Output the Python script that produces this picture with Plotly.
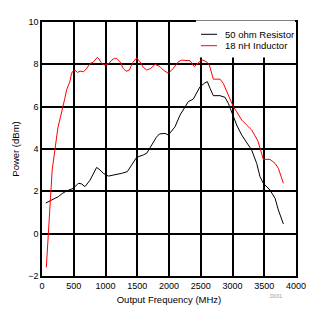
import plotly.graph_objects as go

# Data
red_x = [68, 85, 100, 118, 140, 160, 190, 220, 250, 290, 326, 360, 389, 420, 441, 460, 477, 520, 560,
         600, 650, 693, 730, 756, 808, 840, 871, 900, 924, 960, 992, 1055, 1098, 1140, 1176, 1228, 1280,
         1323, 1375, 1428, 1491, 1543, 1595, 1649, 1712, 1780, 1858, 1910, 1990, 2067, 2146, 2200, 2330,
         2399, 2460, 2515, 2593, 2635, 2698, 2803, 2855, 2908, 2961, 3013, 3066, 3145, 3224, 3302, 3400,
         3486, 3591, 3670, 3722, 3801]
red_y = [-1.6, -0.6, 0.3, 1.2, 2.0, 3.0, 3.7, 4.4, 5.0, 5.5, 5.9, 6.4, 6.8, 7.0, 7.2, 7.5, 7.65, 7.72, 7.62,
         7.68, 7.65, 7.76, 7.95, 8.04, 8.1, 8.2, 8.33, 8.25, 8.1, 8.0, 7.97, 8.04, 8.2, 8.28, 8.28, 8.12, 7.81,
         7.67, 7.73, 8.08, 8.3, 8.12, 7.86, 7.73, 7.81, 8.0, 7.89, 7.73, 7.57, 7.81, 8.12, 8.2, 8.17,
         7.89, 8.05, 8.22, 8.12, 7.97, 7.3, 7.3, 7.1, 6.7, 6.31, 6.0, 5.76, 5.37, 5.13, 4.9, 4.38,
         3.51, 3.51, 3.32, 3.09, 2.38]

blk_x = [60, 126, 190, 257, 320, 389, 493, 572, 625, 677, 756, 808, 861, 913, 966, 1045, 1150, 1255,
         1344, 1412, 1491, 1596, 1649, 1700, 1754, 1800, 1848, 1937, 1990, 2095, 2173, 2252, 2304, 2383,
         2436, 2488, 2567, 2604, 2646, 2698, 2803, 2882, 2934, 2987, 3066, 3145, 3224, 3302, 3381, 3433,
         3486, 3591, 3670, 3722, 3801]
blk_y = [1.45, 1.55, 1.65, 1.75, 1.9, 2.02, 2.14, 2.38, 2.35, 2.22, 2.53, 2.85, 3.13, 3.01, 2.85, 2.72, 2.77,
         2.85, 2.93, 3.24, 3.61, 3.72, 3.80, 4.05, 4.34, 4.55, 4.71, 4.74, 4.66, 5.05, 5.6, 6.0, 6.24, 6.36,
         6.63, 6.94, 7.13, 7.18, 6.87, 6.52, 6.52, 6.44, 6.16, 5.76, 5.13, 4.66, 4.3, 3.95, 3.32, 2.69,
         2.38, 2.06, 1.67, 1.12, 0.46]

series_names = ["50 ohm Resistor", "18 nH Inductor"]
series_colors = ["#000000", "#ff0000"]
x_ticks = [0, 500, 1000, 1500, 2000, 2500, 3000, 3500, 4000]
y_ticks = [-2, 0, 2, 4, 6, 8, 10]

FONT = "Liberation Sans, Arial, sans-serif"

fig = go.Figure()
fig.add_trace(go.Scatter(x=blk_x, y=blk_y, mode="lines", name=series_names[0],
                         line=dict(color=series_colors[0], width=1)))
fig.add_trace(go.Scatter(x=red_x, y=red_y, mode="lines", name=series_names[1],
                         line=dict(color=series_colors[1], width=1)))

axis_common = dict(showgrid=True, gridcolor="black", gridwidth=1.5, showline=True, mirror=True,
                   linecolor="black", linewidth=1.5, ticks="", zeroline=False,
                   tickfont=dict(family=FONT, size=9, color="black"))

fig.update_xaxes(range=[0, 4000], tickvals=x_ticks, **axis_common,
                 title=dict(text="Output Frequency (MHz)", font=dict(family=FONT, size=9.5, color="black"),
                            standoff=7))
fig.update_yaxes(range=[-2, 10], tickvals=y_ticks, **axis_common,
                 title=dict(text="Power (dBm)", font=dict(family=FONT, size=9.5, color="black"),
                            standoff=7))

# Legend box (white background covering gridlines)
fig.add_shape(type="rect", xref="paper", yref="paper", x0=0.606, x1=0.996, y0=0.860, y1=1.006,
              fillcolor="white", line=dict(width=0), layer="above")
leg_y = [0.9516, 0.9067]
for name, color, yy in zip(series_names, series_colors, leg_y):
    fig.add_shape(type="line", xref="paper", yref="paper", x0=0.626, x1=0.689, y0=yy, y1=yy,
                  line=dict(color=color, width=1), layer="above")
    fig.add_annotation(text=name, xref="paper", yref="paper", x=0.7126, y=yy, xanchor="left",
                       yanchor="middle", showarrow=False, font=dict(family=FONT, size=9.5, color="black"))

fig.add_annotation(text="D001", xref="paper", yref="paper", x=(276 - 42) / 254, y=(276 - 296) / 254,
                   xanchor="center", yanchor="middle", showarrow=False,
                   font=dict(family=FONT, size=5, color="#999999"))

fig.update_layout(width=325, height=328, margin=dict(l=42, r=29, t=22, b=52),
                  plot_bgcolor="white", paper_bgcolor="white", showlegend=False)

fig.write_html("out.html")
